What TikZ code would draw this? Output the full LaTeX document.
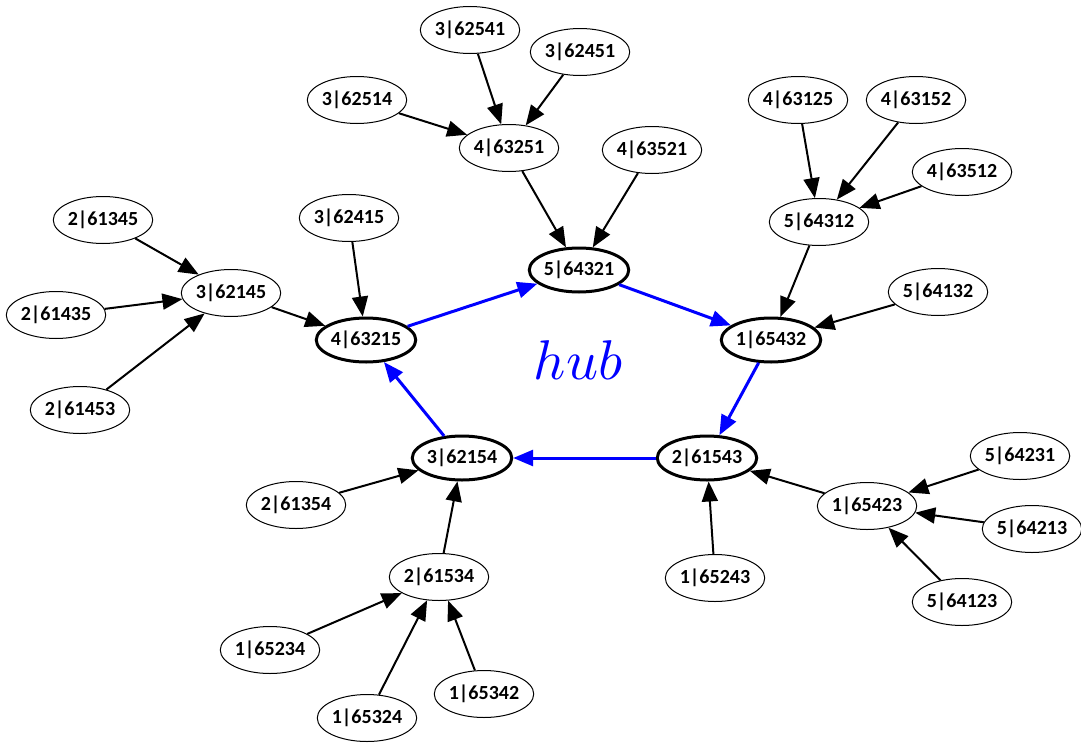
\documentclass[tikz,border=0pt]{standalone}
\usepackage{fontspec}
\setmainfont{Carlito}
\usetikzlibrary{arrows.meta,shapes.geometric}
\begin{document}
\begin{tikzpicture}[x=1pt,y=-1pt,
  st/.style={ellipse,draw,line width=1pt,minimum width=97pt,minimum height=47pt,inner sep=0pt,
    font=\fontsize{20}{23}\selectfont\bfseries},
  hubn/.style={st,line width=3pt,minimum width=96pt,minimum height=44pt},
  arr/.style={line width=2pt,-{Triangle[length=20pt,width=16pt]}},
  barr/.style={line width=3pt,blue,-{Triangle[length=20pt,width=16pt]}}]
\useasboundingbox (0,0) rectangle (1081,744);
\node[st] (a62541) at (470,30) {3|62541};
\node[st] (a62451) at (580,52) {3|62451};
\node[st] (a62514) at (357,100) {3|62514};
\node[st] (a63251) at (509,148) {4|63251};
\node[st] (a63521) at (652,150) {4|63521};
\node[st] (a63125) at (798,100) {4|63125};
\node[st] (a63152) at (916,100) {4|63152};
\node[st] (a63512) at (962,172) {4|63512};
\node[st] (a64312) at (819,222) {5|64312};
\node[st] (a61345) at (103,220) {2|61345};
\node[st] (a62415) at (349,218) {3|62415};
\node[st] (a62145) at (231,293) {3|62145};
\node[st] (a61435) at (56,315) {2|61435};
\node[st] (a61453) at (80,410) {2|61453};
\node[hubn] (a63215) at (366,340) {4|63215};
\node[hubn] (a64321) at (579,270) {5|64321};
\node[hubn] (a65432) at (771,340) {1|65432};
\node[st] (a64132) at (938,292) {5|64132};
\node[hubn] (a62154) at (462,458) {3|62154};
\node[hubn] (a61543) at (707,458) {2|61543};
\node[st] (a61354) at (296,505) {2|61354};
\node[st] (a65423) at (867,506) {1|65423};
\node[st] (a64231) at (1020,456) {5|64231};
\node[st] (a64213) at (1032,529) {5|64213};
\node[st] (a64123) at (962,602) {5|64123};
\node[st] (a61534) at (439,577) {2|61534};
\node[st] (a65243) at (715,578) {1|65243};
\node[st] (a65234) at (270,650) {1|65234};
\node[st] (a65342) at (484,694) {1|65342};
\node[st] (a65324) at (367,718) {1|65324};
\node[text=blue,inner sep=0pt] (hub) at (578,360) {\scalebox{5.6}{$hub$}};
\draw[arr] (a62541) -- (a63251);
\draw[arr] (a62451) -- (a63251);
\draw[arr] (a62514) -- (a63251);
\draw[arr] (a63251) -- (a64321);
\draw[arr] (a63521) -- (a64321);
\draw[arr] (a63125) -- (a64312);
\draw[arr] (a63152) -- (a64312);
\draw[arr] (a63512) -- (a64312);
\draw[arr] (a64312) -- (a65432);
\draw[arr] (a64132) -- (a65432);
\draw[arr] (a61345) -- (a62145);
\draw[arr] (a61435) -- (a62145);
\draw[arr] (a61453) -- (a62145);
\draw[arr] (a62145) -- (a63215);
\draw[arr] (a62415) -- (a63215);
\draw[arr] (a61354) -- (a62154);
\draw[arr] (a61534) -- (a62154);
\draw[arr] (a65234) -- (a61534);
\draw[arr] (a65324) -- (a61534);
\draw[arr] (a65342) -- (a61534);
\draw[arr] (a65243) -- (a61543);
\draw[arr] (a65423) -- (a61543);
\draw[arr] (a64231) -- (a65423);
\draw[arr] (a64213) -- (a65423);
\draw[arr] (a64123) -- (a65423);
\draw[barr] (a63215) -- (a64321);
\draw[barr] (a64321) -- (a65432);
\draw[barr] (a65432) -- (a61543);
\draw[barr] (a61543) -- (a62154);
\draw[barr] (a62154) -- (a63215);
\end{tikzpicture}
\end{document}
